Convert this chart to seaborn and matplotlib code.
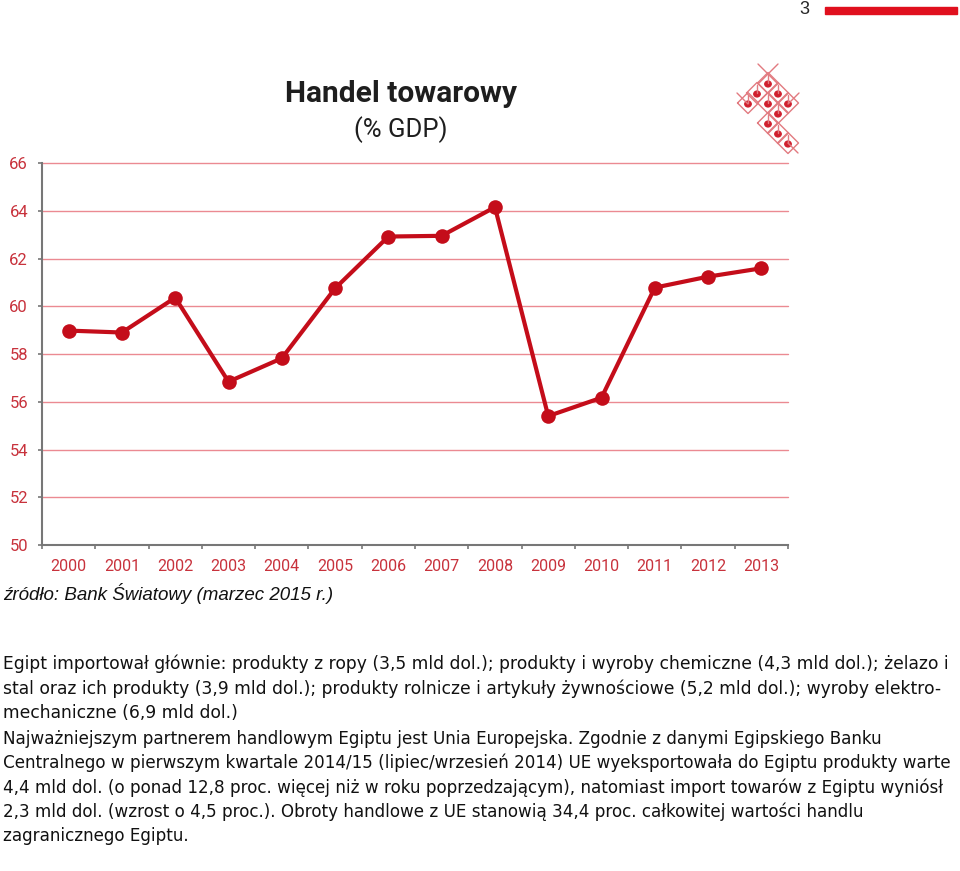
import matplotlib
matplotlib.use("Agg")
import matplotlib.pyplot as plt
import matplotlib.lines as mlines
import matplotlib.patches as mpatches
import numpy as np
import pandas as pd
import seaborn as sns

# Data
years = [2000, 2001, 2002, 2003, 2004, 2005, 2006,
         2007, 2008, 2009, 2010, 2011, 2012, 2013]
trade_pct_gdp = [58.98, 58.90, 60.36, 56.84, 57.82, 60.75, 62.92,
                 62.95, 64.15, 55.40, 56.17, 60.78, 61.24, 61.59]
y_ticks = [50, 52, 54, 56, 58, 60, 62, 64, 66]

title = "Handel towarowy"
subtitle = "(% GDP)"
source = "źródło: Bank Światowy (marzec 2015 r.)"
para1 = ["Egipt importował głównie: produkty z ropy (3,5 mld dol.); produkty i wyroby chemiczne (4,3 mld dol.); żelazo i",
         "stal oraz ich produkty (3,9 mld dol.); produkty rolnicze i artykuły żywnościowe (5,2 mld dol.); wyroby elektro-",
         "mechaniczne (6,9 mld dol.)"]
para2 = ["Najważniejszym partnerem handlowym Egiptu jest Unia Europejska. Zgodnie z danymi Egipskiego Banku",
         "Centralnego w pierwszym kwartale 2014/15 (lipiec/wrzesień 2014) UE wyeksportowała do Egiptu produkty warte",
         "4,4 mld dol. (o ponad 12,8 proc. więcej niż w roku poprzedzającym), natomiast import towarów z Egiptu wyniósł",
         "2,3 mld dol. (wzrost o 4,5 proc.). Obroty handlowe z UE stanowią 34,4 proc. całkowitej wartości handlu",
         "zagranicznego Egiptu."]

df = pd.DataFrame({"rok": years, "handel": trade_pct_gdp})

sns.set_style("white")
plt.rcParams["font.family"] = ["DejaVu Sans"]

W, H = 960, 871
fig = plt.figure(figsize=(W / 100, H / 100), dpi=100)

def fx(px):
    return px / W

def fy(py):
    return 1 - py / H

ax = fig.add_axes([fx(42), fy(545), fx(788) - fx(42), fy(163) - fy(545)])

line_red = "#c40d1a"
grid_red = "#eb8a92"
label_red = "#c8323c"

for v in y_ticks[1:]:
    ax.axhline(v, color=grid_red, lw=1.0, zorder=0, clip_on=False)

sns.lineplot(data=df, x="rok", y="handel", ax=ax, color=line_red, lw=3.0,
             marker="o", markersize=10.5, markeredgewidth=0, zorder=3)

ax.set_xlim(years[0] - 0.5, years[-1] + 0.5)
ax.set_ylim(y_ticks[0], y_ticks[-1])
ax.set_xticks(years)
ax.set_xticklabels([str(y) for y in years])
ax.set_xticks(np.arange(years[0] - 0.5, years[-1] + 1, 1.0), minor=True)
ax.set_yticks(y_ticks)
ax.tick_params(axis="x", which="major", length=0, pad=10, labelsize=11.5,
               labelcolor=label_red)
ax.tick_params(axis="x", which="minor", length=3, width=1.2, color="#777777",
               direction="out", bottom=True)
ax.tick_params(axis="y", length=3, width=1.2, color="#777777", direction="out",
               left=True, pad=7, labelsize=12, labelcolor=label_red)
for lab in ax.get_xticklabels() + ax.get_yticklabels():
    lab.set_family("Roboto")
ax.set_xlabel("")
ax.set_ylabel("")
for s in ["top", "right"]:
    ax.spines[s].set_visible(False)
for s in ["left", "bottom"]:
    ax.spines[s].set_color("#777777")
    ax.spines[s].set_linewidth(1.5)

# page header
fig.text(fx(804), fy(10), "3", fontsize=13, family="Liberation Sans",
         ha="center", va="center")
fig.patches.append(mpatches.Rectangle((fx(825), fy(14)), fx(957) - fx(825),
                                      fy(7) - fy(14), transform=fig.transFigure,
                                      color="#e0101e", zorder=5))

# titles
fig.text(fx(401), fy(94), title, fontsize=21.5, fontweight="bold",
         family="Roboto", ha="center", va="center", color="#1e1e1e")
fig.text(fx(401), fy(130), subtitle, fontsize=18.5,
         family="Roboto", ha="center", va="center", color="#1e1e1e")

# logo (lattice of diamonds with dots)
dots = [(768, 83), (757, 93), (778, 93), (748, 103), (768, 103), (788, 103),
        (778, 113), (768, 123), (778, 133), (788, 143)]
logo_red = "#e27a80"
for (cx, cy) in dots:
    d = 10.5
    xs = [cx - d, cx, cx + d, cx, cx - d]
    ys = [cy, cy - d, cy, cy + d, cy]
    fig.lines.append(mlines.Line2D([fx(x) for x in xs], [fy(y) for y in ys],
                                   transform=fig.transFigure, color=logo_red, lw=1))
    fig.lines.append(mlines.Line2D([fx(cx), fx(cx)], [fy(cy - 8), fy(cy)],
                                   transform=fig.transFigure, color=logo_red, lw=1))
    fig.patches.append(mpatches.Circle((fx(cx), fy(cy + 1)), 3.2 / W,
                                       transform=fig.transFigure, color="#d0202e"))
for (x0, y0, x1, y1) in [(758, 64, 778, 84), (778, 64, 758, 84),
                         (737, 93, 748, 104), (799, 93, 788, 104),
                         (788, 143, 798, 153)]:
    fig.lines.append(mlines.Line2D([fx(x0), fx(x1)], [fy(y0), fy(y1)],
                                   transform=fig.transFigure, color=logo_red, lw=1))

# source
fig.text(fx(3), fy(594), source, fontsize=13.5, style="italic",
         family="Liberation Sans", ha="left", va="center", color="#111111")

# paragraphs
for i, line in enumerate(para1):
    fig.text(fx(3), fy(664 + i * 24.5), line, fontsize=12.35, family="DejaVu Sans",
             ha="left", va="center", color="#111111")
for i, line in enumerate(para2):
    fig.text(fx(3), fy(739 + i * 24.2), line, fontsize=12.05, family="DejaVu Sans",
             ha="left", va="center", color="#111111")

fig.savefig("out.png", dpi=100)
